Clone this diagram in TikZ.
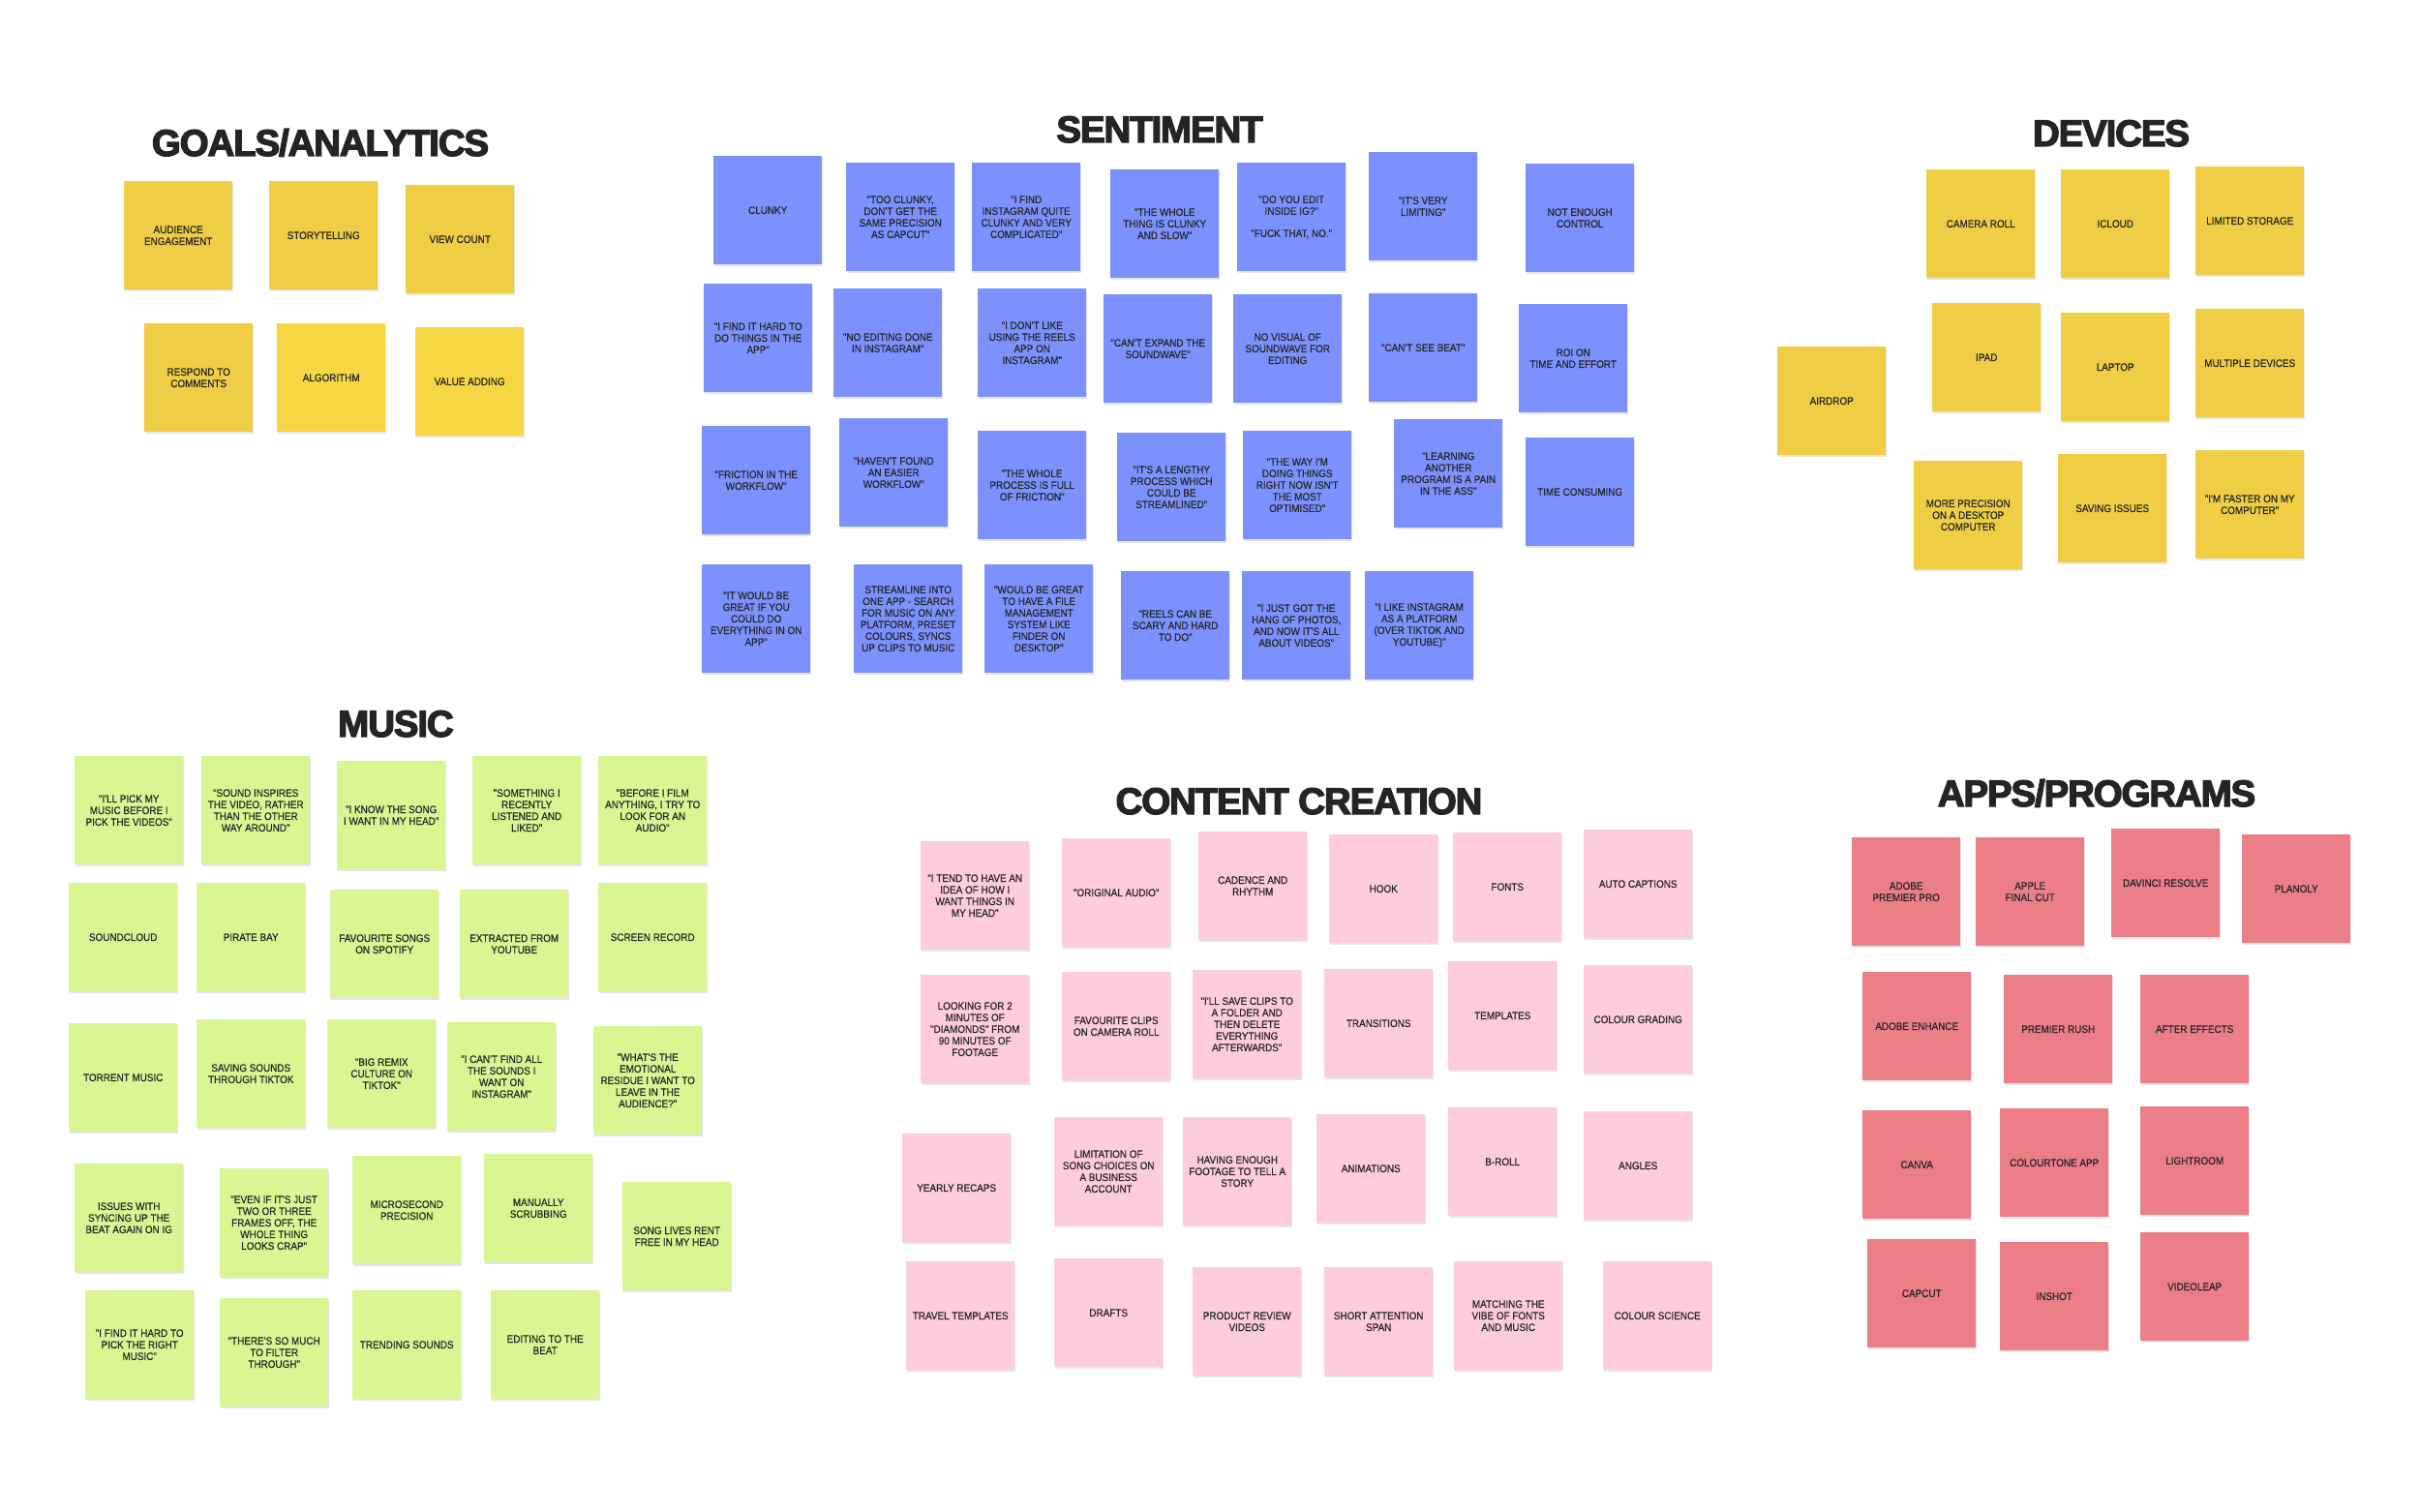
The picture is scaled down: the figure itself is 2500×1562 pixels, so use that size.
\documentclass[tikz,border=0pt]{standalone}
\usepackage{fontspec}
\usetikzlibrary{shadows}
\newfontfamily\notefont[FakeStretch=0.9,FakeBold=0.4]{Liberation Sans}
\newfontfamily\titlefont[BoldFeatures={FakeBold=3.4,LetterSpace=-3}]{Liberation Sans}
\definecolor{txt}{HTML}{262626}
\definecolor{ttl}{HTML}{242424}
\definecolor{yel}{HTML}{EFCE45}
\definecolor{yelb}{HTML}{F6D743}
\definecolor{blu}{HTML}{7C91FD}
\definecolor{grn}{HTML}{D9F692}
\definecolor{pnk}{HTML}{FECCDC}
\definecolor{red}{HTML}{EC7E87}
\newcommand{\stk}[5]{\node[note, fill=#2, anchor=north west] (#1) at (#3,#4) {#5};}
\begin{document}
\begin{tikzpicture}[x=1pt,y=-1pt,
  note/.style={minimum width=112pt, minimum height=112pt, inner sep=0pt, align=center,
    font=\notefont\fontsize{11}{12}\selectfont, text=txt,
    drop shadow={shadow xshift=1pt, shadow yshift=-2pt, fill=black, opacity=0.10}},
  grouptitle/.style={anchor=base, inner sep=0pt, text=ttl, font=\titlefont\bfseries\fontsize{38.5}{42}\selectfont}]
\fill[white] (0,0) rectangle (2500,1562);
\useasboundingbox (0,0) rectangle (2500,1562);
% titles
\node[grouptitle] (tgoals) at (331,161) {GOALS/ANALYTICS};
\node[grouptitle] (tsent) at (1198,147) {SENTIMENT};
\node[grouptitle] (tdev) at (2181,151) {DEVICES};
\node[grouptitle] (tmus) at (409,761) {MUSIC};
\node[grouptitle] (tcont) at (1342,841) {CONTENT CREATION};
\node[grouptitle] (tapps) at (2166,833) {APPS/PROGRAMS};
% goals
\stk{g1}{yel}{128}{187}{AUDIENCE\\ENGAGEMENT}
\stk{g2}{yel}{278}{187}{STORYTELLING}
\stk{g3}{yel}{419}{191}{VIEW COUNT}
\stk{g4}{yel}{149}{334}{RESPOND TO\\COMMENTS}
\stk{g5}{yelb}{286}{334}{ALGORITHM}
\stk{g6}{yelb}{429}{338}{VALUE ADDING}
% sentiment
\stk{s1}{blu}{737}{161}{CLUNKY}
\stk{s2}{blu}{874}{168}{"TOO CLUNKY,\\DON'T GET THE\\SAME PRECISION\\AS CAPCUT"}
\stk{s3}{blu}{1004}{168}{"I FIND\\INSTAGRAM QUITE\\CLUNKY AND VERY\\COMPLICATED"}
\stk{s4}{blu}{1147}{175}{"THE WHOLE\\THING IS CLUNKY\\AND SLOW"}
\stk{s5}{blu}{1278}{168}{"DO YOU EDIT\\INSIDE IG?"\\[11pt]"FUCK THAT, NO."}
\stk{s6}{blu}{1414}{157}{"IT'S VERY\\LIMITING"}
\stk{s7}{blu}{1576}{169}{NOT ENOUGH\\CONTROL}
\stk{s8}{blu}{727}{293}{"I FIND IT HARD TO\\DO THINGS IN THE\\APP"}
\stk{s9}{blu}{861}{298}{"NO EDITING DONE\\IN INSTAGRAM"}
\stk{s10}{blu}{1010}{298}{"I DON'T LIKE\\USING THE REELS\\APP ON\\INSTAGRAM"}
\stk{s11}{blu}{1140}{304}{"CAN'T EXPAND THE\\SOUNDWAVE"}
\stk{s12}{blu}{1274}{304}{NO VISUAL OF\\SOUNDWAVE FOR\\EDITING}
\stk{s13}{blu}{1414}{303}{"CAN'T SEE BEAT"}
\stk{s14}{blu}{1569}{314}{ROI ON\\TIME AND EFFORT}
\stk{s15}{blu}{725}{440}{"FRICTION IN THE\\WORKFLOW"}
\stk{s16}{blu}{867}{432}{"HAVEN'T FOUND\\AN EASIER\\WORKFLOW"}
\stk{s17}{blu}{1010}{445}{"THE WHOLE\\PROCESS IS FULL\\OF FRICTION"}
\stk{s18}{blu}{1154}{447}{"IT'S A LENGTHY\\PROCESS WHICH\\COULD BE\\STREAMLINED"}
\stk{s19}{blu}{1284}{445}{"THE WAY I'M\\DOING THINGS\\RIGHT NOW ISN'T\\THE MOST\\OPTIMISED"}
\stk{s20}{blu}{1440}{433}{"LEARNING\\ANOTHER\\PROGRAM IS A PAIN\\IN THE ASS"}
\stk{s21}{blu}{1576}{452}{TIME CONSUMING}
\stk{s22}{blu}{725}{583}{"IT WOULD BE\\GREAT IF YOU\\COULD DO\\EVERYTHING IN ON\\APP"}
\stk{s23}{blu}{882}{583}{STREAMLINE INTO\\ONE APP - SEARCH\\FOR MUSIC ON ANY\\PLATFORM, PRESET\\COLOURS, SYNCS\\UP CLIPS TO MUSIC}
\stk{s24}{blu}{1017}{583}{"WOULD BE GREAT\\TO HAVE A FILE\\MANAGEMENT\\SYSTEM LIKE\\FINDER ON\\DESKTOP"}
\stk{s25}{blu}{1158}{590}{"REELS CAN BE\\SCARY AND HARD\\TO DO"}
\stk{s26}{blu}{1283}{590}{"I JUST GOT THE\\HANG OF PHOTOS,\\AND NOW IT'S ALL\\ABOUT VIDEOS"}
\stk{s27}{blu}{1410}{590}{"I LIKE INSTAGRAM\\AS A PLATFORM\\(OVER TIKTOK AND\\YOUTUBE)"}
% devices
\stk{d1}{yel}{1990}{175}{CAMERA ROLL}
\stk{d2}{yel}{2129}{175}{ICLOUD}
\stk{d3}{yel}{2268}{172}{LIMITED STORAGE}
\stk{d4}{yel}{1836}{358}{AIRDROP}
\stk{d5}{yel}{1996}{313}{IPAD}
\stk{d6}{yel}{2129}{323}{LAPTOP}
\stk{d7}{yel}{2268}{319}{MULTIPLE DEVICES}
\stk{d8}{yel}{1977}{476}{MORE PRECISION\\ON A DESKTOP\\COMPUTER}
\stk{d9}{yel}{2126}{469}{SAVING ISSUES}
\stk{d10}{yel}{2268}{465}{"I'M FASTER ON MY\\COMPUTER"}
% music
\stk{m1}{grn}{77}{781}{"I'LL PICK MY\\MUSIC BEFORE I\\PICK THE VIDEOS"}
\stk{m2}{grn}{208}{781}{"SOUND INSPIRES\\THE VIDEO, RATHER\\THAN THE OTHER\\WAY AROUND"}
\stk{m3}{grn}{348}{786}{"I KNOW THE SONG\\I WANT IN MY HEAD"}
\stk{m4}{grn}{488}{781}{"SOMETHING I\\RECENTLY\\LISTENED AND\\LIKED"}
\stk{m5}{grn}{618}{781}{"BEFORE I FILM\\ANYTHING, I TRY TO\\LOOK FOR AN\\AUDIO"}
\stk{m6}{grn}{71}{912}{SOUNDCLOUD}
\stk{m7}{grn}{203}{912}{PIRATE BAY}
\stk{m8}{grn}{341}{919}{FAVOURITE SONGS\\ON SPOTIFY}
\stk{m9}{grn}{475}{919}{EXTRACTED FROM\\YOUTUBE}
\stk{m10}{grn}{618}{912}{SCREEN RECORD}
\stk{m11}{grn}{71}{1057}{TORRENT MUSIC}
\stk{m12}{grn}{203}{1053}{SAVING SOUNDS\\THROUGH TIKTOK}
\stk{m13}{grn}{338}{1053}{"BIG REMIX\\CULTURE ON\\TIKTOK"}
\stk{m14}{grn}{462}{1056}{"I CAN'T FIND ALL\\THE SOUNDS I\\WANT ON\\INSTAGRAM"}
\stk{m15}{grn}{613}{1060}{"WHAT'S THE\\EMOTIONAL\\RESIDUE I WANT TO\\LEAVE IN THE\\AUDIENCE?"}
\stk{m16}{grn}{77}{1202}{ISSUES WITH\\SYNCING UP THE\\BEAT AGAIN ON IG}
\stk{m17}{grn}{227}{1207}{"EVEN IF IT'S JUST\\TWO OR THREE\\FRAMES OFF, THE\\WHOLE THING\\LOOKS CRAP"}
\stk{m18}{grn}{364}{1194}{MICROSECOND\\PRECISION}
\stk{m19}{grn}{500}{1192}{MANUALLY\\SCRUBBING}
\stk{m20}{grn}{643}{1221}{SONG LIVES RENT\\FREE IN MY HEAD}
\stk{m21}{grn}{88}{1333}{"I FIND IT HARD TO\\PICK THE RIGHT\\MUSIC"}
\stk{m22}{grn}{227}{1341}{"THERE'S SO MUCH\\TO FILTER\\THROUGH"}
\stk{m23}{grn}{364}{1333}{TRENDING SOUNDS}
\stk{m24}{grn}{507}{1333}{EDITING TO THE\\BEAT}
% content creation
\stk{c1}{pnk}{951}{869}{"I TEND TO HAVE AN\\IDEA OF HOW I\\WANT THINGS IN\\MY HEAD"}
\stk{c2}{pnk}{1097}{866}{"ORIGINAL AUDIO"}
\stk{c3}{pnk}{1238}{859}{CADENCE AND\\RHYTHM}
\stk{c4}{pnk}{1373}{862}{HOOK}
\stk{c5}{pnk}{1501}{860}{FONTS}
\stk{c6}{pnk}{1636}{857}{AUTO CAPTIONS}
\stk{c7}{pnk}{951}{1007}{LOOKING FOR 2\\MINUTES OF\\"DIAMONDS" FROM\\90 MINUTES OF\\FOOTAGE}
\stk{c8}{pnk}{1097}{1004}{FAVOURITE CLIPS\\ON CAMERA ROLL}
\stk{c9}{pnk}{1232}{1002}{"I'LL SAVE CLIPS TO\\A FOLDER AND\\THEN DELETE\\EVERYTHING\\AFTERWARDS"}
\stk{c10}{pnk}{1368}{1001}{TRANSITIONS}
\stk{c11}{pnk}{1496}{993}{TEMPLATES}
\stk{c12}{pnk}{1636}{997}{COLOUR GRADING}
\stk{c13}{pnk}{932}{1171}{YEARLY RECAPS}
\stk{c14}{pnk}{1089}{1154}{LIMITATION OF\\SONG CHOICES ON\\A BUSINESS\\ACCOUNT}
\stk{c15}{pnk}{1222}{1154}{HAVING ENOUGH\\FOOTAGE TO TELL A\\STORY}
\stk{c16}{pnk}{1360}{1151}{ANIMATIONS}
\stk{c17}{pnk}{1496}{1144}{B-ROLL}
\stk{c18}{pnk}{1636}{1148}{ANGLES}
\stk{c19}{pnk}{936}{1303}{TRAVEL TEMPLATES}
\stk{c20}{pnk}{1089}{1300}{DRAFTS}
\stk{c21}{pnk}{1232}{1309}{PRODUCT REVIEW\\VIDEOS}
\stk{c22}{pnk}{1368}{1309}{SHORT ATTENTION\\SPAN}
\stk{c23}{pnk}{1502}{1303}{MATCHING THE\\VIBE OF FONTS\\AND MUSIC}
\stk{c24}{pnk}{1656}{1303}{COLOUR SCIENCE}
% apps
\stk{a1}{red}{1913}{865}{ADOBE\\PREMIER PRO}
\stk{a2}{red}{2041}{865}{APPLE\\FINAL CUT}
\stk{a3}{red}{2181}{856}{DAVINCI RESOLVE}
\stk{a4}{red}{2316}{862}{PLANOLY}
\stk{a5}{red}{1924}{1004}{ADOBE ENHANCE}
\stk{a6}{red}{2070}{1007}{PREMIER RUSH}
\stk{a7}{red}{2211}{1007}{AFTER EFFECTS}
\stk{a8}{red}{1924}{1147}{CANVA}
\stk{a9}{red}{2066}{1145}{COLOURTONE APP}
\stk{a10}{red}{2211}{1143}{LIGHTROOM}
\stk{a11}{red}{1929}{1280}{CAPCUT}
\stk{a12}{red}{2066}{1283}{INSHOT}
\stk{a13}{red}{2211}{1273}{VIDEOLEAP}
\end{tikzpicture}
\end{document}
